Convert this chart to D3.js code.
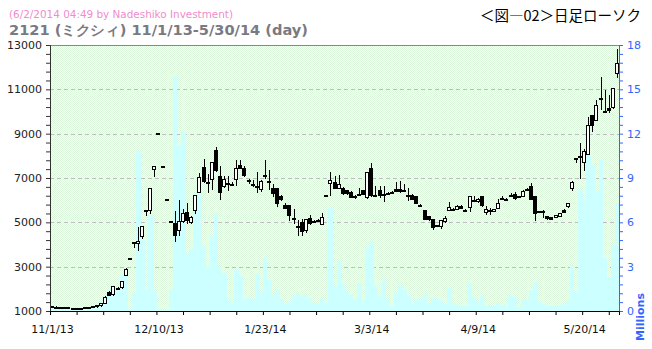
<!DOCTYPE html>
<html>
<head>
<meta charset="utf-8">
<script src="https://cdn.jsdelivr.net/npm/d3@7"></script>
<style>
  body { margin: 0; background: #fff; }
  svg { display: block; }
</style>
</head>
<body>
<svg id="chart" width="652" height="349"></svg>
<script>
// trading days 11/1/13 - 5/30/14
const dates = [
  "11/1/13","11/5/13","11/6/13","11/7/13","11/8/13","11/11/13","11/12/13","11/13/13","11/14/13","11/15/13",
  "11/18/13","11/19/13","11/20/13","11/21/13","11/22/13","11/25/13","11/26/13","11/27/13","11/28/13","11/29/13",
  "12/2/13","12/3/13","12/4/13","12/5/13","12/6/13","12/9/13","12/10/13","12/11/13","12/12/13","12/13/13",
  "12/16/13","12/17/13","12/18/13","12/19/13","12/20/13","12/24/13","12/25/13","12/26/13","12/27/13","12/30/13",
  "1/6/14","1/7/14","1/8/14","1/9/14","1/10/14","1/14/14","1/15/14","1/16/14","1/17/14","1/20/14",
  "1/21/14","1/22/14","1/23/14","1/24/14","1/27/14","1/28/14","1/29/14","1/30/14","1/31/14","2/3/14",
  "2/4/14","2/5/14","2/6/14","2/7/14","2/10/14","2/12/14","2/13/14","2/14/14","2/17/14","2/18/14",
  "2/19/14","2/20/14","2/21/14","2/24/14","2/25/14","2/26/14","2/27/14","2/28/14","3/3/14","3/4/14",
  "3/5/14","3/6/14","3/7/14","3/10/14","3/11/14","3/12/14","3/13/14","3/14/14","3/17/14","3/18/14",
  "3/19/14","3/20/14","3/24/14","3/25/14","3/26/14","3/27/14","3/28/14","3/31/14","4/1/14","4/2/14",
  "4/3/14","4/4/14","4/7/14","4/8/14","4/9/14","4/10/14","4/11/14","4/14/14","4/15/14","4/16/14",
  "4/17/14","4/18/14","4/21/14","4/22/14","4/23/14","4/24/14","4/25/14","4/28/14","4/30/14","5/1/14",
  "5/2/14","5/7/14","5/8/14","5/9/14","5/12/14","5/13/14","5/14/14","5/15/14","5/16/14","5/19/14",
  "5/20/14","5/21/14","5/22/14","5/23/14","5/26/14","5/27/14","5/28/14","5/29/14","5/30/14"
];

const open = [
  1220,1200,1190,1180,1160,1140,1120,1120,1140,1170,
  1200,1260,1250,1390,1860,1730,2060,2070,2640,3400,
  4100,4100,4380,5550,5550,7400,9050,7550,6050,5050,
  4970,4630,5040,5460,5000,5560,6390,7490,6800,6950,
  8270,7100,6620,6760,6740,6950,7590,7470,6890,6740,
  6650,6500,7130,6860,6530,6560,6170,5790,5760,5190,
  4830,5030,4640,5180,5060,5100,4920,6240,6770,6810,
  6540,6540,6440,6380,6170,6290,6470,6140,7440,6240,
  6440,6290,6320,6390,6510,6500,6470,6240,6240,6170,
  5800,5540,5270,5150,4880,4850,5040,5550,5610,5600,
  5750,5570,5670,6020,5940,6170,5450,5540,5520,5640,
  6090,6050,6230,6290,6170,6200,6500,6650,6170,5490,
  5490,5270,5240,5240,5300,5570,5720,6570,7890,7990,
  7700,8090,9850,9620,10600,10020,10150,10200,11720
];
const high = [
  1230,1205,1200,1185,1165,1145,1130,1140,1165,1200,
  1230,1285,1380,1660,1880,2140,2080,2360,2920,3400,
  4100,4800,4850,5550,6550,7550,9050,7550,6050,5050,
  5490,5990,5600,5880,5300,6240,7220,7860,7190,7710,
  8380,7520,7070,7070,6800,7820,7820,7550,6950,6890,
  7260,6900,7820,7370,6740,6560,6240,5870,5760,5610,
  5120,5150,5150,5340,5100,5160,5420,6240,7250,7100,
  7140,6600,6460,6400,6220,6540,6480,7260,7670,6620,
  6620,6620,6360,6420,6840,6860,6740,6540,6260,6180,
  5820,5540,5290,5160,4900,5120,5300,5910,5640,5780,
  5770,5600,6170,6200,6080,6190,5720,5640,5620,6050,
  6200,6090,6320,6390,6200,6440,6530,6770,6170,5510,
  5540,5300,5260,5350,5430,5600,5880,6850,7890,8600,
  8300,9770,9850,10520,11570,10970,10750,11050,12820
];
const low = [
  1190,1180,1175,1160,1130,1110,1105,1115,1135,1165,
  1190,1200,1240,1380,1720,1700,2000,2060,2620,3400,
  3900,3750,4290,5340,5400,7100,9050,7550,6050,5050,
  4140,4440,5000,4960,4980,5410,6390,6800,6390,6510,
  7300,6050,6600,6470,6700,6690,7470,7100,6770,6620,
  6350,6400,7000,6500,6170,5720,6000,5650,5120,4960,
  4440,4440,4550,4940,5000,5050,4920,6240,6240,6540,
  6540,6300,6300,6130,6120,6250,6280,6100,6200,6200,
  6150,5940,6280,6360,6400,6380,6440,6020,6040,5860,
  5780,5140,5110,4700,4850,4740,5030,5540,5580,5590,
  5630,5540,5490,5990,5920,5740,5390,5390,5500,5630,
  6060,6020,6200,6050,6140,6190,6470,6040,5120,5460,
  5250,5150,5150,5220,5280,5460,5700,6470,7700,7000,
  7370,8090,9100,9600,10100,9990,10000,10150,11540
];
const close = [
  1200,1190,1185,1170,1140,1120,1115,1135,1160,1195,
  1225,1215,1360,1640,1730,2110,2010,2350,2900,3400,
  4100,4180,4850,5550,6550,7550,9050,7550,6050,5050,
  4410,5040,5415,5100,5240,6240,7060,6840,6770,7710,
  7370,6390,6950,6740,6740,7440,7470,7140,6890,6740,
  6620,6870,7070,6840,6290,5900,6020,5670,5310,5175,
  4815,4640,5150,4940,5040,5100,5240,6240,6920,6540,
  6720,6320,6320,6140,6170,6290,6290,7260,6240,6240,
  6200,6290,6320,6390,6420,6390,6470,6240,6050,5870,
  5790,5150,5120,4790,4870,5120,5190,5670,5610,5720,
  5640,5570,6170,6020,6050,5760,5600,5540,5610,5870,
  6090,6050,6230,6090,6170,6420,6500,6050,5390,5490,
  5490,5160,5160,5340,5420,5480,5870,6840,7880,7940,
  8200,9400,9400,10300,10580,9990,10070,11050,12170
];
// volume, millions of shares
const volume = [
  0.25,0.15,0.12,0.1,0.12,0.15,0.12,0.1,0.12,0.15,
  0.3,0.35,0.6,1.1,1.5,1.3,1.6,2.4,2.4,0.1,
  1.2,10.8,4.8,1.4,6.5,1.3,0.15,0.1,0.1,1.5,
  15.9,11.2,12.1,3.9,4.2,8.0,8.1,4.4,3.0,5.1,
  6.6,3.0,2.6,0.8,0.5,2.8,2.4,0.8,0.9,0.8,
  2.5,1.3,3.65,2.1,1.1,1.4,0.8,0.5,0.6,1.0,
  1.25,1.0,1.1,0.88,0.54,0.5,0.8,0.54,7.0,1.7,
  3.3,1.8,1.26,1.1,0.8,1.9,0.72,4.26,4.75,1.7,
  1.04,2.16,0.77,0.36,1.2,1.7,1.4,1.0,0.5,0.77,
  0.77,1.17,0.54,0.88,0.77,0.77,0.5,1.55,0.54,0.38,
  0.32,0.32,1.9,0.95,0.65,1.0,0.43,0.32,0.32,0.54,
  0.43,0.32,1.04,0.88,0.27,0.81,0.81,1.4,1.94,0.59,
  0.47,0.43,0.36,0.32,0.43,0.47,0.65,3.1,1.3,8.2,
  7.5,10.5,9.9,8.1,10.2,3.6,2.3,4.4,7.3
];

const priceTicks = [1000, 3000, 5000, 7000, 9000, 11000, 13000];
const volTicks = [0, 3, 6, 9, 12, 15, 18];
const dateTicks = ["11/1/13", "12/10/13", "1/23/14", "3/3/14", "4/9/14", "5/20/14"];

const titleNote = "(6/2/2014 04:49 by Nadeshiko Investment)";
const titleMain = "2121 (ミクシィ) 11/1/13-5/30/14 (day)";
const titleFig = "＜図―02＞日足ローソク";

const svg = d3.select("#chart");
const L = 50, R = 619, T = 45, B = 311;
const font = "'DejaVu Sans', Verdana, sans-serif";
const blue = "#3366ff";

const x = d3.scaleBand().domain(dates).range([L, R]);
const xi = d3.scaleLinear().domain([0, dates.length]).range([L, R]);
const y = d3.scaleLinear().domain([1000, 13000]).range([B, T]);
const yv = d3.scaleLinear().domain([0, 18]).range([B, T]);
const bw = x.bandwidth();

// dotted green plot background
const defs = svg.append("defs");
const pat = defs.append("pattern")
  .attr("id", "dots")
  .attr("width", 2)
  .attr("height", 2)
  .attr("patternUnits", "userSpaceOnUse");
pat.append("rect").attr("width", 2).attr("height", 2).attr("fill", "#f7fff7");
pat.append("rect").attr("width", 1).attr("height", 1).attr("fill", "#dcf8dc");
pat.append("rect").attr("x", 1).attr("y", 1).attr("width", 1).attr("height", 1).attr("fill", "#dcf8dc");

svg.append("rect")
  .attr("x", L).attr("y", T)
  .attr("width", R - L).attr("height", B - T)
  .attr("fill", "url(#dots)");

// grid
svg.append("g")
  .selectAll("line")
  .data(priceTicks.slice(1, -1))
  .enter()
  .append("line")
  .attr("x1", L).attr("x2", R)
  .attr("y1", d => Math.round(y(d)) + 0.5)
  .attr("y2", d => Math.round(y(d)) + 0.5)
  .attr("stroke", "#c0bcc4")
  .attr("stroke-dasharray", "4,3");

// volume
svg.append("g")
  .attr("shape-rendering", "crispEdges")
  .selectAll("rect")
  .data(dates)
  .enter()
  .append("rect")
  .attr("x", d => x(d))
  .attr("width", bw + 0.5)
  .attr("y", (d, i) => yv(volume[i]))
  .attr("height", (d, i) => B - yv(volume[i]))
  .attr("fill", "#ccffff");

// candles
const candles = svg.append("g")
  .selectAll("g")
  .data(dates)
  .enter()
  .append("g");
const cx = d => Math.round(x(d) + bw / 2);
candles.append("line")
  .attr("x1", d => cx(d) + 0.5)
  .attr("x2", d => cx(d) + 0.5)
  .attr("y1", (d, i) => Math.round(y(high[i])))
  .attr("y2", (d, i) => Math.round(y(low[i])) + 1)
  .attr("stroke", "#000");
candles.append("rect")
  .attr("x", d => cx(d) - 1.5)
  .attr("width", 3)
  .attr("y", (d, i) => Math.round(y(Math.max(open[i], close[i]))) + 0.5)
  .attr("height", (d, i) => Math.max(1, Math.round(Math.abs(y(open[i]) - y(close[i])))))
  .attr("fill", (d, i) => close[i] > open[i] ? "#fff" : "#000")
  .attr("stroke", "#000");

// frame
svg.append("line")
  .attr("x1", L).attr("x2", R)
  .attr("y1", T + 0.5).attr("y2", T + 0.5)
  .attr("stroke", "#888");

// left axis
const yAxis = d3.axisLeft(y)
  .tickValues(d3.range(1000, 13001, 400))
  .tickSize(4)
  .tickPadding(4)
  .tickFormat(d => priceTicks.includes(d) ? d : "");
const gy = svg.append("g").attr("transform", `translate(${L},0)`).call(yAxis);
gy.select(".domain").attr("stroke", "#333");
gy.selectAll(".tick line").attr("stroke", "#333");
gy.selectAll("text").attr("font-family", font).attr("font-size", 11).attr("fill", "#222");

// right axis
const vAxis = d3.axisRight(yv)
  .tickValues(d3.range(0, 31).map(k => k * 0.6))
  .tickSize(4)
  .tickPadding(4)
  .tickFormat(d => {
    const r = Math.round(d);
    return Math.abs(d - r) < 1e-6 && volTicks.includes(r) ? r : "";
  });
const gv = svg.append("g").attr("transform", `translate(${R},0)`).call(vAxis);
gv.select(".domain").attr("stroke", blue);
gv.selectAll(".tick line").attr("stroke", blue);
gv.selectAll("text").attr("font-family", font).attr("font-size", 11).attr("fill", blue);

svg.append("text")
  .attr("transform", "translate(643.5,317) rotate(-90)")
  .attr("text-anchor", "middle")
  .attr("font-family", font)
  .attr("font-size", 11)
  .attr("font-weight", "bold")
  .attr("fill", blue)
  .text("Millions");

// bottom axis
const tickIdx = d3.range(0, 22).map(k => k * 6.5);
const labelIdx = dateTicks.map(t => dates.indexOf(t));
const xAxis = d3.axisBottom(xi)
  .tickValues(tickIdx)
  .tickSize(4)
  .tickPadding(10)
  .tickFormat(d => labelIdx.includes(d) ? dates[d] : "");
const gx = svg.append("g").attr("transform", `translate(0,${B})`).call(xAxis);
gx.select(".domain").attr("stroke", "#000");
gx.selectAll(".tick line").attr("stroke", "#000");
gx.selectAll("text")
  .attr("font-family", font)
  .attr("font-size", 11)
  .attr("fill", "#111")
  .attr("dx", 2);

// titles
svg.append("text")
  .attr("x", 9).attr("y", 18)
  .attr("font-family", font)
  .attr("font-size", 10.5)
  .attr("fill", "#f08ccc")
  .attr("textLength", 224)
  .attr("lengthAdjust", "spacingAndGlyphs")
  .text(titleNote);
svg.append("text")
  .attr("x", 9).attr("y", 35)
  .attr("font-family", font)
  .attr("font-size", 14)
  .attr("font-weight", "bold")
  .attr("fill", "#7a7a82")
  .attr("textLength", 299)
  .attr("lengthAdjust", "spacingAndGlyphs")
  .text(titleMain);
svg.append("text")
  .attr("x", 641).attr("y", 21)
  .attr("text-anchor", "end")
  .attr("font-family", "'Noto Sans CJK JP', sans-serif")
  .attr("font-size", 14.5)
  .attr("fill", "#000")
  .text(titleFig);
</script>
</body>
</html>
